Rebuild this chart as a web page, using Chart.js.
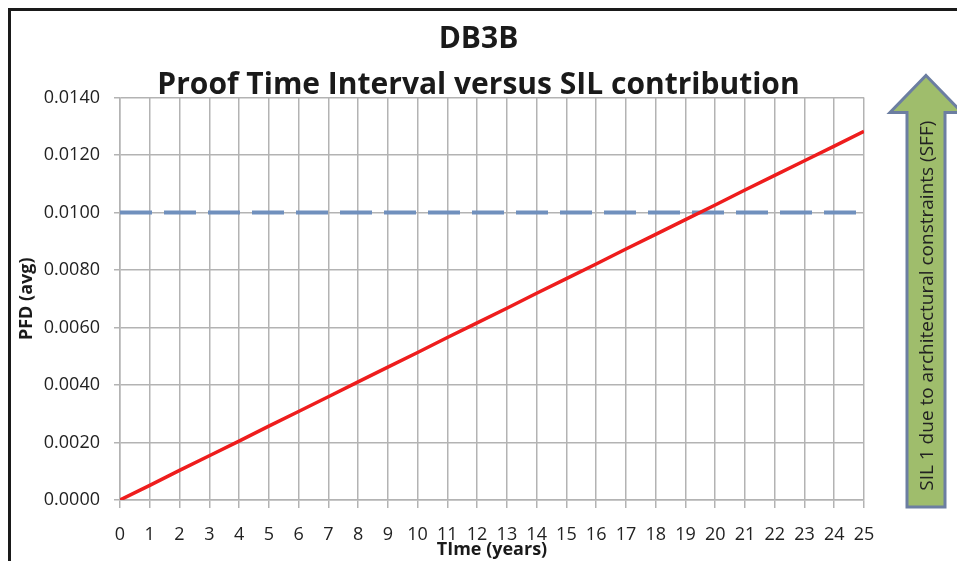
<!DOCTYPE html>
<html>
<head>
<meta charset="utf-8">
<script src="https://cdn.jsdelivr.net/npm/chart.js@4/dist/chart.umd.min.js"></script>
<style>
  html, body { margin: 0; padding: 0; background: #fff; }
  #wrap { width: 957px; height: 561px; }
</style>
</head>
<body>
<div id="wrap"><canvas id="pfdChart" width="957" height="561"></canvas></div>
<script>
// chart data
const years = [0, 1, 2, 3, 4, 5, 6, 7, 8, 9, 10, 11, 12, 13, 14, 15, 16, 17, 18, 19, 20, 21, 22, 23, 24, 25];
const pfdAvg = [0.0000, 0.00051, 0.00103, 0.00154, 0.00205, 0.00257, 0.00308, 0.00359, 0.00411, 0.00462,
  0.00513, 0.00565, 0.00616, 0.00667, 0.00719, 0.00770, 0.00821, 0.00873, 0.00924, 0.00975,
  0.01026, 0.01078, 0.01129, 0.01180, 0.01231, 0.01282];
const limitYears = [0, 25];
const limitValues = [0.0100, 0.0100];
const yTicks = [0.0000, 0.0020, 0.0040, 0.0060, 0.0080, 0.0100, 0.0120, 0.0140];
const arrowText = "SIL 1 due to architectural constraints (SFF)";

const gridColor = "#b3b3b3";
const fontName = "'Open Sans', 'Liberation Sans', sans-serif";

// black frame on the top and left edge
const framePlugin = {
  id: "frame",
  beforeDraw(chart) {
    const ctx = chart.ctx;
    ctx.save();
    ctx.fillStyle = "#fff";
    ctx.fillRect(0, 0, chart.width, chart.height);
    ctx.fillStyle = "#1a1a1a";
    ctx.fillRect(8, 8, chart.width - 8, 3);
    ctx.fillRect(8, 8, 3, chart.height - 8);
    ctx.restore();
  }
};

// green up arrow with rotated text at the right
const arrowPlugin = {
  id: "silArrow",
  afterDraw(chart) {
    const ctx = chart.ctx;
    const ca = chart.chartArea;
    const cx = ca.right + 62;
    const tip = ca.top - 22;
    const headBase = ca.top + 15;
    const bottom = ca.bottom + 7;
    const bodyHalf = 19;
    const headHalf = 36;
    ctx.save();
    ctx.beginPath();
    ctx.moveTo(cx, tip);
    ctx.lineTo(cx + headHalf, headBase);
    ctx.lineTo(cx + bodyHalf, headBase);
    ctx.lineTo(cx + bodyHalf, bottom);
    ctx.lineTo(cx - bodyHalf, bottom);
    ctx.lineTo(cx - bodyHalf, headBase);
    ctx.lineTo(cx - headHalf, headBase);
    ctx.closePath();
    ctx.fillStyle = "#9fbd6c";
    ctx.fill();
    ctx.lineWidth = 3;
    ctx.strokeStyle = "#6c7ea1";
    ctx.lineJoin = "miter";
    ctx.stroke();

    ctx.translate(cx + 2, (headBase + bottom) / 2 - 4);
    ctx.rotate(-Math.PI / 2);
    ctx.fillStyle = "#222";
    ctx.font = "19px " + fontName;
    ctx.textAlign = "center";
    ctx.textBaseline = "middle";
    ctx.fillText(arrowText, 0, 0);
    ctx.restore();
  }
};

const ctx = document.getElementById("pfdChart").getContext("2d");
new Chart(ctx, {
  type: "line",
  data: {
    datasets: [
      {
        label: "PFD (avg)",
        data: years.map((x, i) => ({ x: x, y: pfdAvg[i] })),
        borderColor: "#ee1d1d",
        borderWidth: 3.5,
        pointRadius: 0,
        tension: 0,
        order: 1
      },
      {
        label: "SIL limit",
        data: limitYears.map((x, i) => ({ x: x, y: limitValues[i] })),
        borderColor: "#7090bd",
        borderWidth: 4,
        borderDash: [32, 12],
        borderCapStyle: "butt",
        pointRadius: 0,
        order: 2
      }
    ]
  },
  options: {
    responsive: false,
    animation: false,
    layout: { padding: 0 },
    plugins: {
      legend: { display: false },
      tooltip: { enabled: false },
      title: {
        display: true,
        text: "DB3B",
        color: "#1a1a1a",
        font: { family: fontName, size: 30, weight: "bold", lineHeight: 1.333 },
        padding: { top: 19.5, bottom: 0 }
      },
      subtitle: {
        display: true,
        text: "Proof Time Interval versus SIL contribution",
        color: "#1a1a1a",
        font: { family: fontName, size: 30, weight: "bold", lineHeight: 0.833 },
        padding: { top: 13, bottom: 0 }
      }
    },
    scales: {
      x: {
        type: "linear",
        min: 0,
        max: 25,
        ticks: {
          stepSize: 1,
          color: "#222",
          font: { family: fontName, size: 18 },
          padding: 16,
          maxRotation: 0
        },
        grid: { color: gridColor, lineWidth: 1.5, tickLength: 8 },
        border: { color: gridColor, width: 1.5 },
        title: {
          display: true,
          text: "TIme (years)",
          color: "#1a1a1a",
          font: { family: fontName, size: 18, weight: "bold" },
          padding: { top: 0, bottom: 0 }
        },
        afterFit(scale) { scale.height = 61; }
      },
      y: {
        min: 0,
        max: 0.014,
        afterBuildTicks(scale) { scale.ticks = yTicks.map((v) => ({ value: v })); },
        ticks: {
          color: "#222",
          font: { family: fontName, size: 18 },
          padding: 14,
          callback: (v) => Number(v).toFixed(4)
        },
        grid: { color: gridColor, lineWidth: 1.5, tickLength: 6 },
        border: { color: gridColor, width: 1.5 },
        title: {
          display: true,
          text: "PFD (avg)",
          color: "#1a1a1a",
          font: { family: fontName, size: 18, weight: "bold" },
          padding: { top: 16, bottom: 0 }
        },
        afterFit(scale) { scale.width = 120; }
      },
      // empty right-hand box that leaves room for the arrow
      side: {
        type: "linear",
        position: "right",
        display: true,
        ticks: { display: false },
        grid: { display: false },
        border: { display: false },
        afterFit(scale) { scale.width = 93; }
      }
    }
  },
  plugins: [framePlugin, arrowPlugin]
});
</script>
</body>
</html>
